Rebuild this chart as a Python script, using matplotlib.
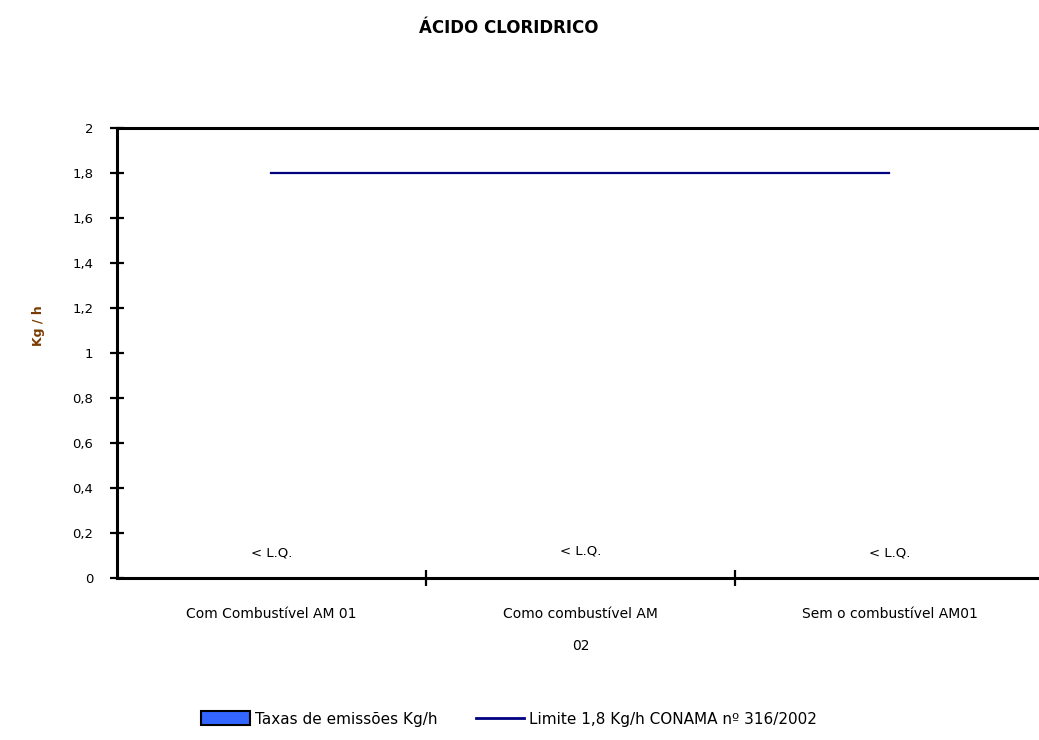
import numpy as np
import matplotlib.pyplot as plt
from matplotlib.patches import Patch
from matplotlib.lines import Line2D

# data
categories = ["Com Combustível AM 01", "Como combustível AM\n02", "Sem o combustível AM01"]
emissoes = [0, 0, 0]          # all below quantification limit
rotulos = ["< L.Q.", "< L.Q.", "< L.Q."]
rotulo_y = [0.11, 0.12, 0.11]
limite = [1.8, 1.8, 1.8]
yticks = [0, 0.2, 0.4, 0.6, 0.8, 1, 1.2, 1.4, 1.6, 1.8, 2]
ytick_labels = ["0", "0,2", "0,4", "0,6", "0,8", "1", "1,2", "1,4", "1,6", "1,8", "2"]

plt.rcParams['font.family'] = ['DejaVu Sans']

fig = plt.figure(figsize=(10.39, 7.4), dpi=100)
ax = fig.add_axes([117 / 1039, 1 - 578 / 740, 927 / 1039, 450 / 740])

x = np.arange(len(categories))
ax.bar(x, emissoes, width=0.6, color='#3366ff', edgecolor='black')
ax.plot(x, limite, color='#000080', lw=1.6)

for xi, yi, t in zip(x, rotulo_y, rotulos):
    ax.text(xi, yi, t, ha='center', va='center', fontsize=9.5)

ax.set_xlim(-0.5, 2.5)
ax.set_ylim(0, 2)
ax.set_yticks(yticks)
ax.set_yticklabels(ytick_labels, fontsize=9.5)

# category boundaries as ticks, labels centred in each slot
ax.set_xticks([0.5, 1.5])
ax.set_xticklabels([])
ax.set_xticks(x, minor=True)
ax.set_xticklabels(categories, minor=True, fontsize=10, linespacing=2.6, va='top')
ax.tick_params(axis='x', which='minor', length=0, pad=21)
ax.tick_params(axis='x', which='major', direction='inout', length=12, width=1.6)
ax.tick_params(axis='y', direction='inout', length=10, width=1.6, pad=12)

for s in ['left', 'bottom', 'top']:
    ax.spines[s].set_linewidth(2.2)
ax.spines['right'].set_visible(False)

ax.set_ylabel("Kg / h", fontsize=9, fontweight='bold', color='#7a3b00')
ax.yaxis.set_label_coords(-0.078, 0.56)

fig.text(0.49, 1 - 28 / 740, "ÁCIDO CLORIDRICO", ha='center', va='center',
         fontsize=12, fontweight='bold')

handles = [Patch(facecolor='#3366ff', edgecolor='black', linewidth=1.5),
           Line2D([0], [0], color='#000080', lw=2)]
fig.legend(handles, ["Taxas de emissões Kg/h", "Limite 1,8 Kg/h CONAMA nº 316/2002"],
           loc='center', bbox_to_anchor=(0.49, 1 - 719 / 740), ncol=2, frameon=False,
           fontsize=11, handlelength=3.2, handleheight=1.0, handletextpad=0.3,
           columnspacing=2.5)

fig.savefig("out.png", dpi=100)
